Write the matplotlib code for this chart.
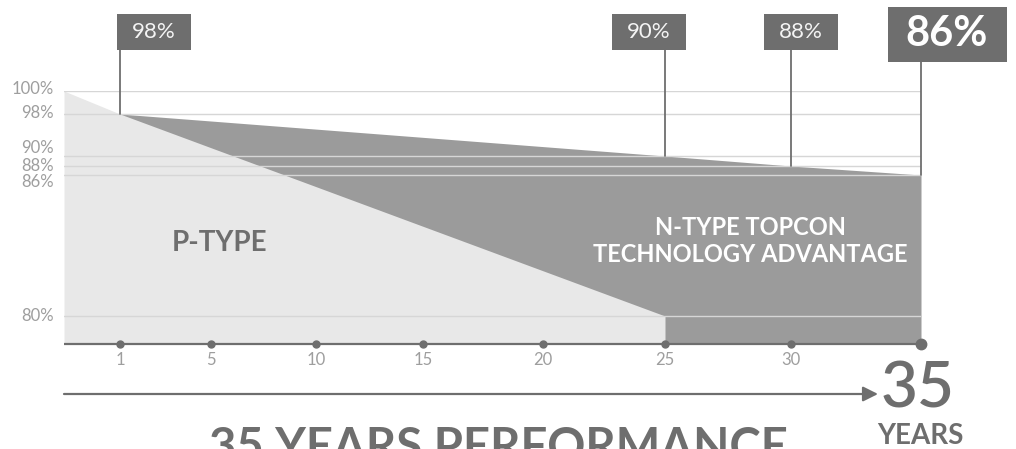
"""
plot.py

35-year power output warranty: P-type vs N-type TOPCon modules.
Both axes use piecewise scales, the way the infographic spaces them.
"""

import numpy as np
import matplotlib
matplotlib.use("Agg")
import matplotlib.pyplot as plt
from matplotlib.patches import Rectangle

# ----------------------------------------------------------------------
# Data
# ----------------------------------------------------------------------
P_YEARS = [0, 1, 25]
P_VALUES = [100, 98, 80]

N_YEARS = [1, 25, 30, 35]
N_VALUES = [98, 90, 88, 86]

YEAR_TICKS = [1, 5, 10, 15, 20, 25, 30]
END_YEAR = 35

PCT_TICKS = [100, 98, 90, 88, 86, 80]
PCT_LABELS = ["100%", "98%", "90%", "88%", "86%", "80%"]

CALLOUT_YEARS = [1, 25, 30, 35]
CALLOUT_VALUES = [98, 90, 88, 86]
CALLOUT_LABELS = ["98%", "90%", "88%", "86%"]

# ----------------------------------------------------------------------
# Layout (figure pixels, origin top-left as in the reference)
# ----------------------------------------------------------------------
W, H = 1016, 449
X_KNOTS = [0, 1, 5, 10, 15, 20, 25, 30, 35]
X_PIX = [64, 120, 211, 316, 423, 543, 665, 791, 921]
Y_KNOTS = [78, 80, 86, 88, 90, 98, 100]
Y_PIX = [344, 316, 175, 166, 156, 114, 91]
Y_UP = [H - p for p in Y_PIX]

LIGHT = "#e8e8e8"
DARK = "#9b9b9b"
INK = "#6e6e6e"
SOFT = "#9e9e9e"
GRID = "#d6d6d6"
FONT = "Lato"


def fx(v):
    return np.interp(v, X_KNOTS, X_PIX)


def fx_inv(p):
    return np.interp(p, X_PIX, X_KNOTS)


def fy(v):
    return np.interp(v, Y_KNOTS, Y_UP)


def fy_inv(p):
    return np.interp(p, Y_UP, Y_KNOTS)


fig = plt.figure(figsize=(W / 100, H / 100), dpi=100)
ax = fig.add_axes([X_PIX[0] / W, Y_UP[0] / H,
                   (X_PIX[-1] - X_PIX[0]) / W, (Y_UP[-1] - Y_UP[0]) / H])
ax.set_xscale("function", functions=(fx, fx_inv))
ax.set_yscale("function", functions=(fy, fy_inv))
ax.set_xlim(X_KNOTS[0], X_KNOTS[-1])
ax.set_ylim(Y_KNOTS[0], Y_KNOTS[-1])
base = Y_KNOTS[0]

for s in ax.spines.values():
    s.set_visible(False)

# areas
ax.fill_between(N_YEARS, N_VALUES, base, color=DARK, lw=0, zorder=1)
ax.fill_between(P_YEARS, P_VALUES, base, color=LIGHT, lw=0, zorder=2)

# grid lines
for v in PCT_TICKS:
    ax.axhline(v, color=GRID, lw=1, zorder=3)

# y labels, nudged apart where they crowd
label_nudge = [2, 1, 8, 0, -7, 0]
ax.set_yticks([])
for v, lab, dy in zip(PCT_TICKS, PCT_LABELS, label_nudge):
    ax.annotate(lab, xy=(0, v), xycoords=("axes fraction", "data"),
                xytext=(-10, dy), textcoords="offset pixels",
                ha="right", va="center", fontsize=12, color=SOFT,
                family=FONT, annotation_clip=False)

# x axis line with dots
ax.set_xticks(YEAR_TICKS)
ax.set_xticklabels([str(y) for y in YEAR_TICKS])
ax.tick_params(axis="x", length=0, pad=6, labelsize=12, labelcolor=SOFT)
for t in ax.get_xticklabels():
    t.set_family(FONT)
ax.plot([0, END_YEAR], [base, base], color=INK, lw=1.6,
        clip_on=False, zorder=4, solid_capstyle="butt")
ax.plot(YEAR_TICKS, [base] * len(YEAR_TICKS), "o", color=INK, ms=5,
        clip_on=False, zorder=5)
ax.plot([END_YEAR], [base], "o", color=INK, ms=7.5, clip_on=False, zorder=5)

# area captions
ax.text(5.4, 83.1, "P-TYPE", ha="center", va="center", fontsize=20,
        fontweight="bold", color=INK, family=FONT, zorder=6)
ax.text(28.4, 83.2, "N-TYPE TOPCON\nTECHNOLOGY ADVANTAGE", ha="center",
        va="center", fontsize=17, fontweight="bold", color="white",
        family=FONT, linespacing=1.2, zorder=6)

# callouts: box centres / sizes in reference pixels
box_cx = [154, 649, 801, 947]
box_cy = [32, 32, 32, 34.5]
box_w = [74, 74, 74, 119]
box_h = [36, 36, 36, 55]
for i, (yr, val, lab) in enumerate(zip(CALLOUT_YEARS, CALLOUT_VALUES,
                                        CALLOUT_LABELS)):
    bottom = box_cy[i] + box_h[i] / 2
    ax.annotate("", xy=(yr, val), xytext=(yr, H - bottom),
                textcoords=("data", "figure pixels"),
                arrowprops=dict(arrowstyle="-", color=INK, lw=1.3,
                                shrinkA=0, shrinkB=0),
                annotation_clip=False, zorder=7)
    fig.patches.append(Rectangle(
        ((box_cx[i] - box_w[i] / 2) / W, (H - bottom) / H),
        box_w[i] / W, box_h[i] / H, transform=fig.transFigure,
        facecolor=INK, edgecolor="none", zorder=8))
    last = i == len(CALLOUT_LABELS) - 1
    fig.text(box_cx[i] / W, 1 - box_cy[i] / H, lab, ha="center",
             va="center", color="#f4f4f4" if not last else "white",
             family=FONT, fontsize=30 if last else 16,
             fontweight="bold" if last else "normal", zorder=9)

# timeline arrow and captions
ax.annotate("", xy=(878, H - 394), xytext=(X_PIX[0], H - 394),
            xycoords="figure pixels", textcoords="figure pixels",
            arrowprops=dict(arrowstyle="-|>,head_length=0.9,head_width=0.45",
                            color=INK, lw=1.6, shrinkA=0, shrinkB=0))
fig.text(918 / W, 1 - 390 / H, "35", ha="center", va="center",
         fontsize=46, color=INK, family=FONT, fontweight="semibold")
fig.text(920 / W, 1 - 436 / H, "YEARS", ha="center", va="center",
         fontsize=20, fontweight="bold", color=INK, family=FONT)
fig.text(498 / W, 1 - 426 / H, "35 YEARS PERFORMANCE", ha="center",
         va="top", fontsize=34, fontweight="bold", color=INK, family=FONT)

fig.savefig("out.png", dpi=100)
